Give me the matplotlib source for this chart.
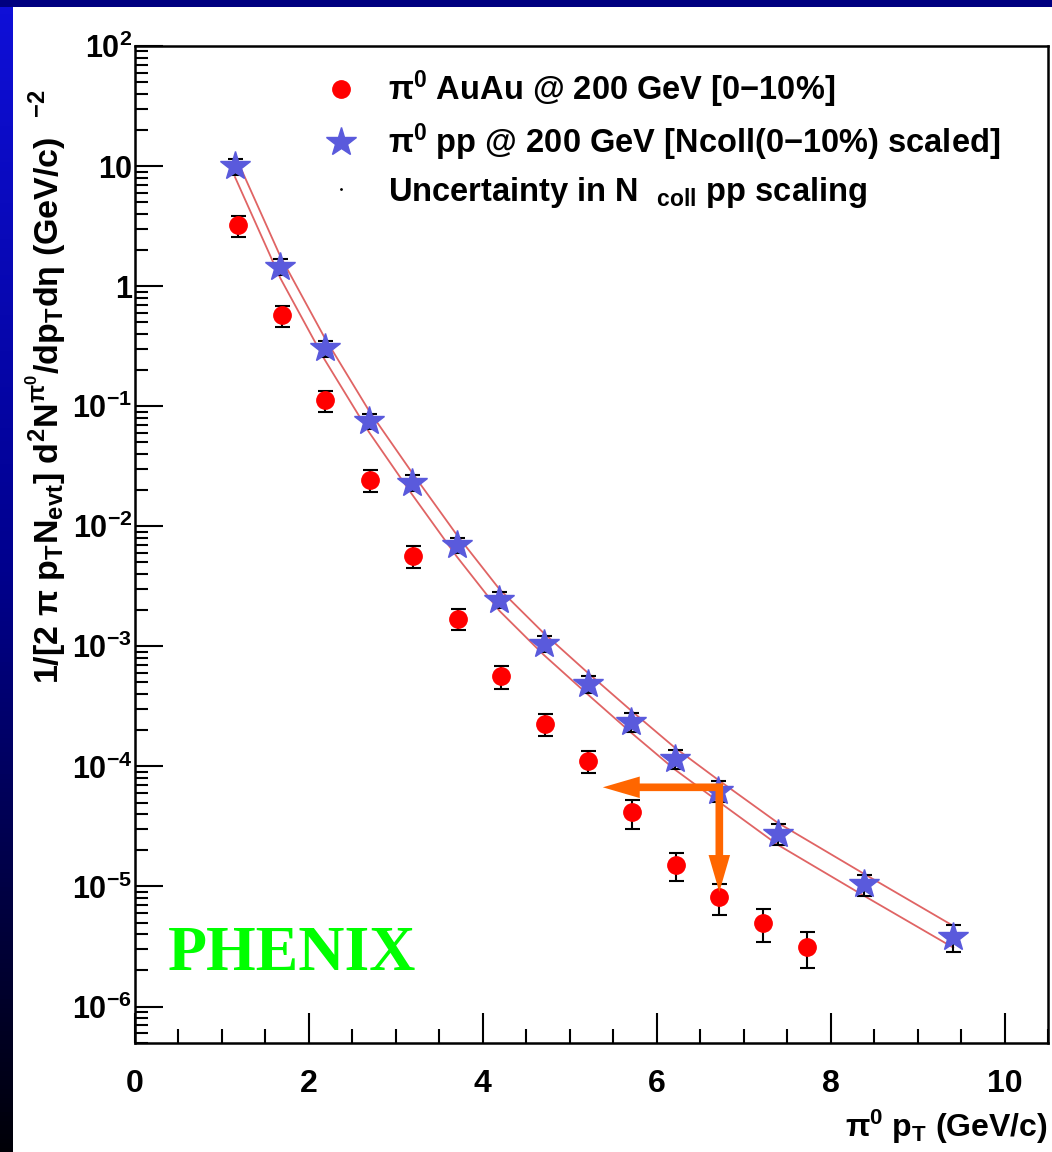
import numpy as np
import matplotlib.pyplot as plt
from matplotlib.lines import Line2D
from matplotlib.patches import Rectangle
from matplotlib.colors import LinearSegmentedColormap
from matplotlib.ticker import FixedLocator, LogLocator, NullFormatter, MultipleLocator

# pi0 AuAu @ 200 GeV, 0-10% central
au_pt = [1.18, 1.69, 2.19, 2.70, 3.20, 3.71, 4.21, 4.71, 5.21, 5.72, 6.22, 6.72, 7.22, 7.73]
au_y = [3.22, 0.573, 0.112, 0.0245, 5.68e-3, 1.70e-3, 5.62e-4, 2.27e-4, 1.11e-4,
        4.14e-5, 1.50e-5, 8.14e-6, 4.95e-6, 3.16e-6]
au_err = [0.64, 0.115, 0.022, 0.0051, 1.2e-3, 3.4e-4, 1.24e-4, 4.8e-5, 2.3e-5,
          1.1e-5, 3.9e-6, 2.4e-6, 1.5e-6, 1.05e-6]

# pi0 pp @ 200 GeV, Ncoll scaled
pp_pt = [1.15, 1.67, 2.18, 2.69, 3.18, 3.70, 4.19, 4.70, 5.21, 5.71, 6.21, 6.71, 7.39, 8.38, 9.41]
pp_y = [10.0, 1.45, 0.303, 0.075, 0.0231, 6.95e-3, 2.45e-3, 1.05e-3, 4.89e-4, 2.34e-4,
        1.16e-4, 6.3e-5, 2.75e-5, 1.04e-5, 3.8e-6]
pp_err = [1.5, 0.22, 0.045, 0.011, 3.5e-3, 1.0e-3, 3.7e-4, 1.6e-4, 8.0e-5, 4.2e-5,
          2.1e-5, 1.2e-5, 5.5e-6, 2.0e-6, 9.5e-7]

# Ncoll scaling uncertainty band (upper / lower edge)
band_hi = [12.3, 1.78, 0.373, 0.092, 0.0284, 8.5e-3, 3.0e-3, 1.29e-3, 6.0e-4, 2.9e-4,
           1.43e-4, 7.7e-5, 3.4e-5, 1.28e-5, 4.7e-6]
band_lo = [8.1, 1.17, 0.245, 0.061, 0.0187, 5.6e-3, 1.98e-3, 8.5e-4, 3.96e-4, 1.9e-4,
           9.4e-5, 5.1e-5, 2.23e-5, 8.4e-6, 3.1e-6]

ytick_vals = [1e-6, 1e-5, 1e-4, 1e-3, 1e-2, 1e-1, 1, 10, 100]
ytick_labels = ['10$^{-6}$', '10$^{-5}$', '10$^{-4}$', '10$^{-3}$', '10$^{-2}$',
                '10$^{-1}$', '1', '10', '10$^{2}$']
xtick_vals = [0, 2, 4, 6, 8, 10]

# orange arrows (pp point -> AuAu)
arrow_x = 6.72
arrow_y = 6.7e-5
arrow_left = 5.38
arrow_bottom = 9.0e-6

plt.rcParams['font.family'] = ['Liberation Sans', 'DejaVu Sans']
plt.rcParams['font.weight'] = 'bold'
plt.rcParams['axes.labelweight'] = 'bold'
plt.rcParams['mathtext.fontset'] = 'custom'
plt.rcParams['mathtext.rm'] = 'Liberation Sans:bold'
plt.rcParams['mathtext.it'] = 'Liberation Sans:bold'
plt.rcParams['mathtext.bf'] = 'Liberation Sans:bold'
plt.rcParams['mathtext.sf'] = 'Liberation Sans:bold'
plt.rcParams['mathtext.default'] = 'rm'

W, H = 1052, 1152
fig = plt.figure(figsize=(W / 100, H / 100), dpi=100)
fig.patch.set_facecolor('white')

# slide background: blue gradient strip on the left, navy band on top
strip = fig.add_axes([0, 0, 13 / W, 1], zorder=-10)
cmap = LinearSegmentedColormap.from_list('strip', [(0, 0, 0.03), (0, 0, 0.55), (0.06, 0.06, 0.85)])
strip.imshow(np.linspace(0, 1, 256)[:, None], cmap=cmap, aspect='auto', origin='lower',
             extent=[0, 1, 0, 1])
strip.axis('off')
fig.patches.append(Rectangle((0, 1 - 7 / H), 1, 7 / H, transform=fig.transFigure,
                             facecolor='#000080', edgecolor='none', zorder=-5))

ax = fig.add_axes([135 / W, 109.3 / H, 913 / W, 996.7 / H])
ax.set_yscale('log')
ax.set_xlim(0, 10.5)
ax.set_ylim(5e-7, 100)

ax.plot(pp_pt, band_hi, color='#e06464', lw=1.3, zorder=2)
ax.plot(pp_pt, band_lo, color='#e06464', lw=1.3, zorder=2)

ax.errorbar(pp_pt, pp_y, yerr=pp_err, fmt='*', color='#5a5adc', ms=22, mec='#5a5adc',
            ecolor='black', elinewidth=1.5, capsize=5.4, capthick=1.5, zorder=3)
ax.errorbar(au_pt, au_y, yerr=au_err, fmt='o', color='red', ms=12.5, mec='red',
            ecolor='black', elinewidth=1.5, capsize=5.4, capthick=1.5, zorder=3)

arrow_kw = dict(arrowstyle='simple,head_length=2.66,head_width=1.55,tail_width=0.55',
                color='#ff6600', lw=0, mutation_scale=10, shrinkA=0, shrinkB=0)
ax.annotate('', xy=(arrow_left, arrow_y), xytext=(arrow_x + 0.04, arrow_y),
            arrowprops=arrow_kw, zorder=4)
ax.annotate('', xy=(arrow_x, arrow_bottom), xytext=(arrow_x, arrow_y * 1.07),
            arrowprops=arrow_kw, zorder=4)

# ticks
ax.yaxis.set_major_locator(FixedLocator(ytick_vals))
ax.set_yticklabels(ytick_labels)
ax.yaxis.set_minor_locator(LogLocator(base=10, subs=np.arange(2, 10), numticks=30))
ax.yaxis.set_minor_formatter(NullFormatter())
ax.set_xticks(xtick_vals)
ax.xaxis.set_minor_locator(MultipleLocator(0.5))
ax.tick_params(which='both', direction='in', top=False, right=False, width=1.5, labelsize=23)
ax.tick_params(axis='y', which='major', length=20, pad=2, labelsize=22)
ax.tick_params(axis='y', which='minor', length=9.6)
ax.tick_params(axis='x', which='major', length=21.6, pad=19)
ax.tick_params(axis='x', which='minor', length=10)
for s in ax.spines.values():
    s.set_linewidth(1.8)

ax.set_xlabel(r'$\pi^{0}$ p$_{T}$ (GeV/c)', fontsize=23, loc='right', labelpad=6)
fig.text(46 / W, 1 - 387 / H,
         r'1/[2 $\pi$ p$_{T}$N$_{evt}$] d$^{2}$N$^{\pi^{0}}$/dp$_{T}$d$\eta$ (GeV/c)  $^{-2}$',
         rotation=90, ha='center', va='center', fontsize=24.5)

handles = [Line2D([], [], marker='o', color='red', ls='none', ms=12.5),
           Line2D([], [], marker='*', color='#5a5adc', ls='none', ms=22),
           Line2D([], [], marker='.', color='black', ls='none', ms=2)]
labels = [r'$\pi^{0}$ AuAu @ 200 GeV [0$-$10%]',
          r'$\pi^{0}$ pp @ 200 GeV [Ncoll(0$-$10%) scaled]',
          r'Uncertainty in N  $_{coll}$ pp scaling']
ax.legend(handles, labels, loc='upper left', bbox_to_anchor=(0.2077, 0.977), frameon=False,
          borderpad=0, borderaxespad=0, handlelength=1.0, handletextpad=0.94,
          labelspacing=0.35, fontsize=23.5)

ax.text(0.172, 0.088, 'PHENIX', transform=ax.transAxes, ha='center', va='center',
        family='Liberation Serif', weight='bold', color='#00ff00', fontsize=46)

fig.savefig('out.png', dpi=100)
